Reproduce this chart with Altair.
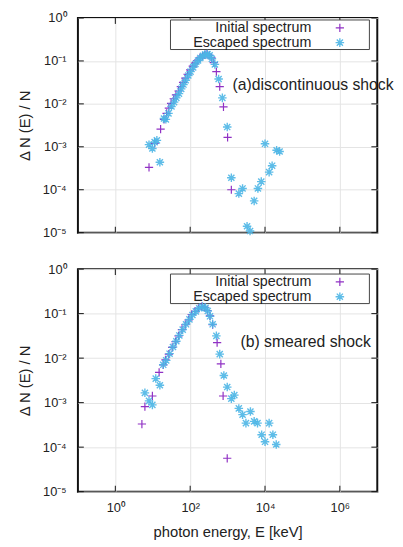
import altair as alt
import pandas as pd

# ---- data (log10 values) ----
# (a) discontinuous shock
top_init_logE = [0.90, 1.05, 1.21, 1.30, 1.37, 1.43, 1.49, 1.56, 1.62, 1.69, 1.75, 1.81, 1.87, 1.93, 2.00,
                 2.07, 2.13, 2.19, 2.26, 2.33, 2.39, 2.45, 2.51, 2.57, 2.63, 2.70, 2.79, 2.89, 3.00, 3.10]
top_init_logN = [-3.48, -2.92, -2.59, -2.36, -2.22, -2.10, -1.99, -1.88, -1.79, -1.70, -1.60, -1.50, -1.40, -1.31, -1.21,
                 -1.12, -1.05, -0.99, -0.93, -0.885, -0.86, -0.84, -0.87, -0.93, -1.04, -1.25, -1.60, -2.07, -2.78, -4.00]
top_esc_logE = [0.90, 0.99, 1.05, 1.11, 1.19, 1.30, 1.35, 1.42, 1.50, 1.57, 1.63, 1.70, 1.76, 1.82, 1.88,
                1.95, 2.01, 2.08, 2.14, 2.21, 2.27, 2.34, 2.40, 2.46, 2.52, 2.58, 2.66, 2.76, 2.86, 2.99,
                3.10, 3.30, 3.40, 3.52, 3.60, 3.71, 3.81, 3.90, 4.00, 4.11, 4.19, 4.31, 4.39]
top_esc_logN = [-2.95, -3.04, -2.89, -2.85, -3.36, -2.34, -2.36, -2.22, -2.06, -1.96, -1.86, -1.76, -1.65, -1.55, -1.45,
                -1.34, -1.25, -1.15, -1.07, -0.99, -0.93, -0.88, -0.85, -0.84, -0.87, -0.95, -1.08, -1.42, -1.86, -2.54,
                -3.72, -4.09, -3.97, -4.85, -4.96, -4.26, -3.97, -3.81, -2.93, -3.59, -3.44, -3.08, -3.11]

# (b) smeared shock
bot_init_logE = [0.71, 0.79, 0.99, 1.17, 1.28, 1.34, 1.43, 1.52, 1.61, 1.69, 1.78, 1.87, 1.96, 2.04, 2.13,
                 2.22, 2.31, 2.39, 2.46, 2.53, 2.60, 2.72, 2.82, 2.88, 2.99]
bot_init_logN = [-3.48, -3.09, -2.85, -2.32, -2.15, -2.04, -1.91, -1.76, -1.63, -1.50, -1.36, -1.25, -1.14, -1.02, -0.95,
                 -0.88, -0.84, -0.86, -0.93, -1.05, -1.25, -1.65, -2.13, -2.85, -4.25]
bot_esc_logE = [0.79, 0.90, 0.99, 1.08, 1.19, 1.28, 1.36, 1.45, 1.54, 1.63, 1.71, 1.80, 1.89, 1.98, 2.06,
                2.15, 2.24, 2.33, 2.41, 2.47, 2.53, 2.60, 2.70, 2.79, 2.90, 2.99, 3.10, 3.18, 3.30, 3.40,
                3.49, 3.61, 3.71, 3.80, 3.91, 4.00, 4.11, 4.21, 4.30]
bot_esc_logN = [-2.78, -2.96, -3.05, -2.46, -2.61, -2.15, -2.05, -1.90, -1.75, -1.62, -1.49, -1.36, -1.24, -1.13, -1.03,
                -0.95, -0.88, -0.84, -0.87, -0.94, -1.06, -1.24, -1.50, -1.91, -2.39, -2.65, -2.91, -2.83, -3.13, -3.27,
                -3.46, -3.20, -3.42, -3.46, -3.72, -3.88, -3.46, -3.72, -3.94]

series_names = ["Initial spectrum", "Escaped spectrum"]
panel_notes = ["(a)discontinuous shock", "(b) smeared shock"]
x_tick_values = [1, 100, 1e4, 1e6]
y_tick_values = [1e-5, 1e-4, 1e-3, 1e-2, 1e-1, 1]

PURPLE = "#9031c4"
CYAN = "#4db6e6"
PLUS = "M-1,0L1,0M0,-1L0,1"
STAR = "M-1,0L1,0M0,-1L0,1M-0.72,-0.72L0.72,0.72M-0.72,0.72L0.72,-0.72"
FONT = "Liberation Sans"
TICK = 6


def frame(logE, logN):
    return pd.DataFrame({"E": [10 ** v for v in logE], "frac": [10 ** v for v in logN]})


x_label_expr = ("datum.value > 5e5 ? '10⁶' : datum.value > 5e3 ? '10⁴' : "
                "datum.value > 50 ? '10²' : '10⁰'")
y_label_expr = ("datum.value > 0.5 ? '10⁰' : datum.value > 0.05 ? '10⁻¹' : "
                "datum.value > 0.005 ? '10⁻²' : datum.value > 0.0005 ? '10⁻³' : "
                "datum.value > 0.00005 ? '10⁻⁴' : '10⁻⁵'")


def panel(df_init, df_esc, note, note_x, note_y, dy, height, show_x):
    if show_x:
        xaxis = alt.Axis(values=x_tick_values, labelExpr=x_label_expr, title="photon energy, E [keV]",
                         ticks=False, domain=False, labelPadding=10, titlePadding=11)
    else:
        xaxis = alt.Axis(values=x_tick_values, labels=False, title=None, ticks=False, domain=False)
    xscale = alt.Scale(type="log", domain=[0.1, 1e7])
    yscale = alt.Scale(type="log", domain=[1e-5, 1])
    X = alt.X("E:Q", scale=xscale, axis=xaxis)
    Y = alt.Y("frac:Q", scale=yscale,
              axis=alt.Axis(values=y_tick_values, labelExpr=y_label_expr, title="Δ N (E) / N",
                            ticks=False, domain=False, labelPadding=12, titlePadding=10))

    one = pd.DataFrame({"k": [0]})
    xt_df = pd.DataFrame({"E": x_tick_values})
    yt_df = pd.DataFrame({"frac": y_tick_values})
    # inward tick marks on all four sides (gnuplot style)
    xt_bottom = alt.Chart(xt_df).mark_rule(color="#111111", strokeWidth=1).encode(
        x=X, y=alt.value(height - TICK), y2=alt.value(height))
    xt_top = alt.Chart(xt_df).mark_rule(color="#111111", strokeWidth=1).encode(
        x=X, y=alt.value(0), y2=alt.value(TICK))
    yt_left = alt.Chart(yt_df).mark_rule(color="#111111", strokeWidth=1).encode(
        y=Y, x=alt.value(0), x2=alt.value(TICK))
    yt_right = alt.Chart(yt_df).mark_rule(color="#111111", strokeWidth=1).encode(
        y=Y, x=alt.value(304 - TICK), x2=alt.value(304))

    box = alt.Chart(one).mark_rect(fill="white", stroke="#444444", strokeWidth=1).encode(
        x=alt.value(94), x2=alt.value(296), y=alt.value(5 + dy), y2=alt.value(35 + dy))
    init = alt.Chart(df_init).mark_point(shape=PLUS, filled=False, size=70, strokeWidth=1.2,
                                         color=PURPLE, opacity=1).encode(x=X, y=Y)
    esc = alt.Chart(df_esc).mark_point(shape=STAR, filled=False, size=75, strokeWidth=1.4,
                                       color=CYAN, opacity=0.9).encode(x=X, y=Y)
    leg_t1 = alt.Chart(pd.DataFrame({"label": [series_names[0]]})).mark_text(
        align="right", baseline="middle", font=FONT, fontSize=14.5, color="#222222").encode(
        x=alt.value(237), y=alt.value(13 + dy), text="label:N")
    leg_t2 = alt.Chart(pd.DataFrame({"label": [series_names[1]]})).mark_text(
        align="right", baseline="middle", font=FONT, fontSize=14.5, color="#222222").encode(
        x=alt.value(237), y=alt.value(28 + dy), text="label:N")
    leg_s1 = alt.Chart(one).mark_point(shape=PLUS, filled=False, size=70, strokeWidth=1.2,
                                       color=PURPLE, opacity=1).encode(x=alt.value(266), y=alt.value(13 + dy))
    leg_s2 = alt.Chart(one).mark_point(shape=STAR, filled=False, size=75, strokeWidth=1.4,
                                       color=CYAN, opacity=0.9).encode(x=alt.value(266), y=alt.value(28 + dy))
    txt = alt.Chart(pd.DataFrame({"label": [note]})).mark_text(
        align="left", baseline="middle", font=FONT, fontSize=16, color="#222222").encode(
        x=alt.value(note_x), y=alt.value(note_y), text="label:N")
    return alt.layer(xt_bottom, xt_top, yt_left, yt_right, box, init, esc,
                     leg_t1, leg_t2, leg_s1, leg_s2, txt).properties(width=304, height=height)


top = panel(frame(top_init_logE, top_init_logN), frame(top_esc_logE, top_esc_logN),
            panel_notes[0], 157, 68, -3, 218, False)
bottom = panel(frame(bot_init_logE, bot_init_logN), frame(bot_esc_logE, bot_esc_logN),
               panel_notes[1], 165, 74, 0, 226, True)

chart = alt.vconcat(top, bottom, spacing=22).properties(
    padding={"left": 8, "top": -1, "right": 0, "bottom": 0}
).configure_view(
    stroke="#111111", strokeWidth=2
).configure_axis(
    labelFont=FONT, titleFont=FONT, labelFontSize=13, titleFontSize=15, titleFontWeight="normal",
    labelColor="#222222", titleColor="#222222", gridColor="#e4e4e4", gridWidth=1
)

chart.save("out.html", embed_options={"renderer": "svg", "actions": False})
